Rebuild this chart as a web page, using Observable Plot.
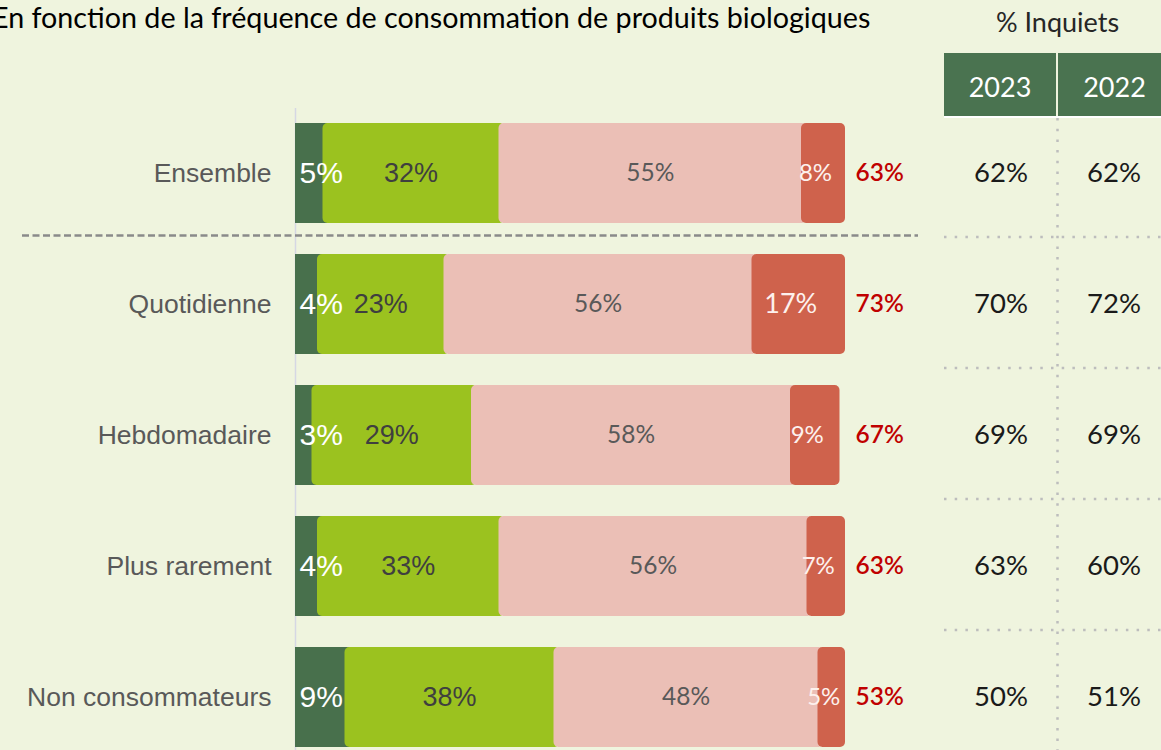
<!DOCTYPE html>
<html><head><meta charset="utf-8">
<script src="https://cdn.jsdelivr.net/npm/d3@7"></script>
<script src="https://cdn.jsdelivr.net/npm/@observablehq/plot@0.6"></script>
<style>
html,body{margin:0;padding:0;background:#eff4de;width:1161px;height:750px;overflow:hidden;}
#wrap{position:relative;width:1161px;height:750px;overflow:hidden;}
#title{position:absolute;left:-8px;top:0px;font-family:Lato,sans-serif;font-size:28.7px;color:#000;white-space:nowrap;line-height:34px;}
#inq{position:absolute;left:944px;width:227px;top:4px;text-align:center;font-family:Lato,sans-serif;font-size:27px;color:#262626;line-height:36px;}
#hdr{position:absolute;left:944px;top:53px;display:flex;border-bottom:2px solid #fff;}
.h{height:63px;background:#4a7350;color:#fff;font-family:Lato,sans-serif;font-size:27px;line-height:67px;text-align:center;}
#main{position:absolute;left:0;top:0;width:944px;}
#table{position:absolute;left:944px;top:0;width:227px;}
#main svg,#table svg{max-width:none !important;}
</style></head>
<body><div id="wrap">
<div id="title">En fonction de la fréquence de consommation de produits biologiques</div>
<div id="inq">% Inquiets</div>
<div id="hdr"></div>
<div id="main"></div>
<div id="table"></div>
</div>
<script>
const categories = ["Ensemble","Quotidienne","Hebdomadaire","Plus rarement","Non consommateurs"];
const seriesNames = ["Pas du tout inquiet","Plutôt pas inquiet","Plutôt inquiet","Très inquiet"];
const pasDuTout = [5,4,3,4,9];
const plutotPas = [32,23,29,33,38];
const plutotInquiet = [55,56,58,56,48];
const tresInquiet = [8,17,9,7,5];
const totalInquiets = [63,73,67,63,53];
const years = ["2023","2022"];
const inquiets2023 = [62,70,69,63,50];
const inquiets2022 = [62,72,69,60,51];
const colors = ["#48704c","#9bc21f","#ebbfb6","#cf624c"];

const seriesValues = [pasDuTout, plutotPas, plutotInquiet, tresInquiet];
const segments = [];
categories.forEach((c, i) => {
  let acc = 0;
  seriesValues.forEach((vals, s) => {
    segments.push({category: c, series: seriesNames[s], s, value: vals[i], x1: acc, x2: acc + vals[i]});
    acc += vals[i];
  });
});
const totals = categories.map((c, i) => ({category: c, value: totalInquiets[i]}));
const tableRows = [];
categories.forEach((c, i) => {
  tableRows.push({category: c, year: years[0], value: inquiets2023[i]});
  tableRows.push({category: c, year: years[1], value: inquiets2022[i]});
});

const yRange = [106.2, 763.7];
const mid = d => (d.x1 + d.x2) / 2;
const pct = d => d.value + "%";
const arial = "Liberation Sans, Arial, sans-serif";
const calibri = "Lato, sans-serif";

const main = Plot.plot({
  width: 944, height: 750,
  marginLeft: 22, marginRight: 26, marginTop: 108, marginBottom: 0,
  style: {background: "transparent", overflow: "visible", maxWidth: "none"},
  x: {domain: [0, 100], range: [295, 845], axis: null},
  y: {type: "band", domain: categories, range: yRange, paddingInner: 0.24, paddingOuter: 0.12, axis: null},
  color: {domain: seriesNames, range: colors},
  marks: [
    Plot.ruleX([0], {stroke: "#d5d7e4", strokeWidth: 1.5}),
    Plot.barX(segments.filter(d => d.s === 0), {x1: "x1", x2: "x2", y: "category", fill: "series", insetRight: -6}),
    Plot.barX(segments.filter(d => d.s === 1 || d.s === 2), {x1: "x1", x2: "x2", y: "category", fill: "series", insetRight: -6, rx: 5}),
    Plot.barX(segments.filter(d => d.s === 3), {x1: "x1", x2: "x2", y: "category", fill: "series", rx: 5}),
    Plot.ruleY([categories[1]], {stroke: "#8a8a8a", strokeWidth: 2.5, strokeDasharray: "7,3.5", dy: -69}),
    Plot.text(categories, {x: () => 0, y: d => d, text: d => d, textAnchor: "end", dx: -24, fontSize: 26.5, fontFamily: arial, fill: "#595959"}),
    Plot.text(segments.filter(d => d.s === 0), {x: "x1", y: "category", text: pct, textAnchor: "start", dx: 4, fontSize: 30, fontFamily: arial, fill: "#ffffff"}),
    Plot.text(segments.filter(d => d.s === 1), {x: mid, y: "category", text: pct, fontSize: 27, fontFamily: arial, fill: "#3f3f3f"}),
    Plot.text(segments.filter(d => d.s === 2), {x: mid, y: "category", text: pct, fontSize: 24.5, fontFamily: calibri, fill: "#595959"}),
    Plot.text(segments.filter(d => d.s === 3), {x: mid, y: "category", text: pct, dx: -8, fontSize: d => d.value >= 10 ? 27 : 24, fontFamily: calibri, fill: "#fdf1ee"}),
    Plot.text(totals, {x: () => 100, y: "category", text: pct, textAnchor: "start", dx: 10, fontSize: 24.5, fontFamily: calibri, fontWeight: 600, fill: "#c00000"})
  ]
});
document.getElementById("main").appendChild(main);

const table = Plot.plot({
  width: 227, height: 750,
  marginLeft: 0, marginRight: 0, marginTop: 118, marginBottom: 0,
  style: {background: "transparent", overflow: "visible", maxWidth: "none"},
  x: {type: "band", domain: years, range: [0, 226], padding: 0, axis: null},
  y: {type: "band", domain: categories, range: yRange, padding: 0, axis: null},
  marks: [
    Plot.ruleY(categories.slice(1), {stroke: "#bdbdbd", strokeWidth: 2.5, strokeDasharray: "2.5,8.2", dy: -67}),
    Plot.ruleX(years.slice(1), {stroke: "#bdbdbd", strokeWidth: 2.5, strokeDasharray: "2.5,8.2", dx: -56.5}),
    Plot.text(tableRows, {x: "year", y: "category", text: pct, fontSize: 27.5, fontFamily: calibri, fill: "#1a1a1a"})
  ]
});
document.getElementById("table").appendChild(table);

const hdr = d3.select("#hdr");
hdr.selectAll("div").data(years).join("div")
  .attr("class", "h")
  .style("width", (d, i) => i === 0 ? "112px" : "113px")
  .style("margin-left", (d, i) => i === 0 ? "0px" : "2px")
  .text(d => d);
</script>
</body></html>
